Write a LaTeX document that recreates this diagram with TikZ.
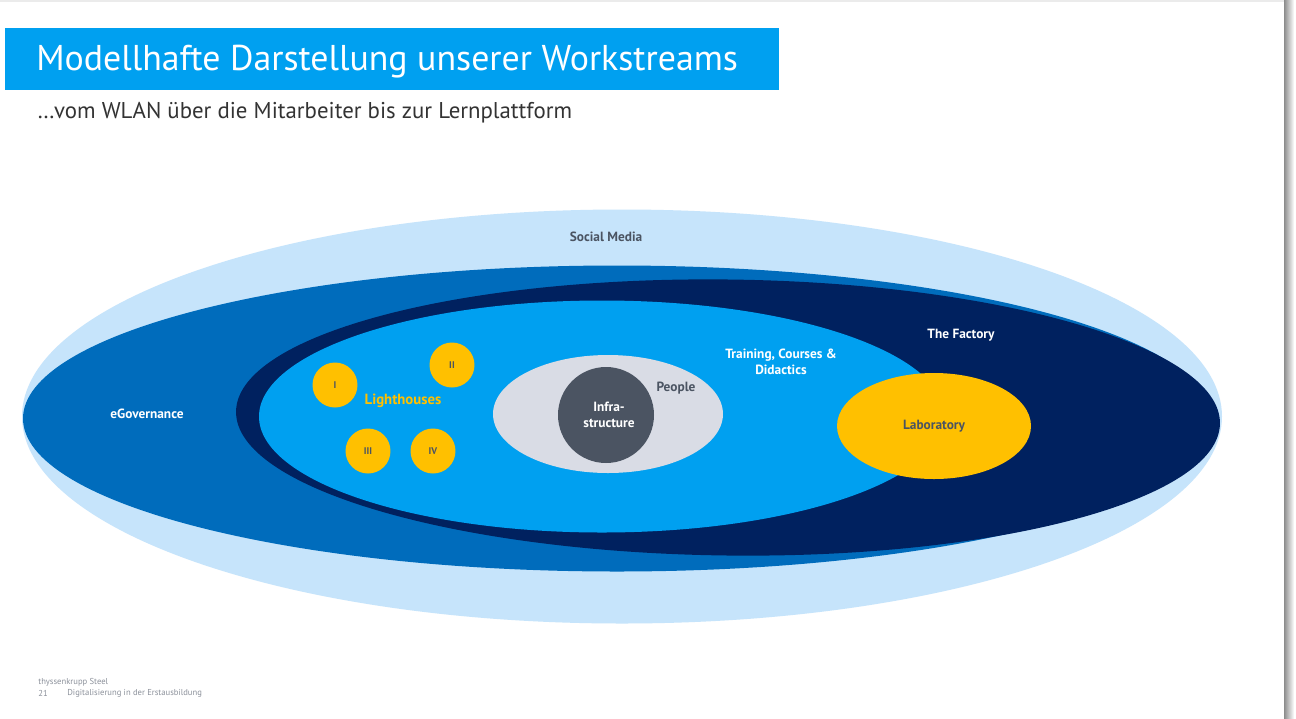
\documentclass[tikz,border=0pt]{standalone}
\usepackage{fontspec}
\setmainfont{PT Sans}
\usepackage{tikz}
\usetikzlibrary{positioning}
\definecolor{tkSky}{HTML}{C6E4FB}
\definecolor{tkMid}{HTML}{006CBC}
\definecolor{tkNavy}{HTML}{00215F}
\definecolor{tkBright}{HTML}{00A0F0}
\definecolor{tkYellow}{HTML}{FFC000}
\definecolor{tkPale}{HTML}{D9DCE5}
\definecolor{tkSlate}{HTML}{4B5462}
\definecolor{tkFoot}{HTML}{8C919B}
\tikzset{
  ringlabel/.style={font=\fontsize{7.6}{9}\selectfont\bfseries, align=center, inner sep=0pt},
  whitelabel/.style={ringlabel, text=white},
  darklabel/.style={ringlabel, text=tkSlate},
  beacon/.style={circle, fill=tkYellow, minimum size=0.9cm, inner sep=0pt,
                 text=tkSlate, font=\fontsize{5.5}{6}\selectfont\bfseries},
  footline/.style={font=\fontsize{4.9}{6}\selectfont, text=tkFoot, anchor=west, inner sep=0pt},
}
\begin{document}
\begin{tikzpicture}[x=0.02cm, y=-0.02cm]
  \useasboundingbox (0,0) rectangle (1296,718);
  \fill[white] (0,0) rectangle (1296,718);
  % page edge
  \shade[left color=black!45, right color=white] (1284,0) rectangle (1294,718);
  \fill[black!8] (0,0) rectangle (1284,2);

  % heading
  \fill[tkBright] (5,28) rectangle (779,90);
  \node[anchor=west, text=white, inner sep=0pt, font=\fontsize{20.4}{24}\selectfont] (title) at (36,62)
    {Modellhafte Darstellung unserer Workstreams};
  \node[anchor=west, text=black!80, inner sep=0pt, font=\fontsize{13}{15}\selectfont] (subtitle) at (37,113)
    {\dots vom WLAN über die Mitarbeiter bis zur Lernplattform};

  % nested workstreams
  \fill[tkSky] (622,416.5) ellipse [x radius=600, y radius=207];
  \fill[tkMid] (617,418.5) ellipse [x radius=594, y radius=153];
  \begin{scope}[rotate around={-0.7:(728,417.5)}]
    \fill[tkNavy] (728,417.5) ellipse [x radius=492, y radius=138];
  \end{scope}
  \fill[tkBright] (602,416.5) ellipse [x radius=343, y radius=116];
  \fill[tkPale] (608,414) ellipse [x radius=115, y radius=59];
  \fill[tkSlate] (606,415) circle [radius=48];
  \fill[tkYellow] (934,426) ellipse [x radius=97, y radius=53];

  \node[darklabel] (social) at (606,237) {Social Media};
  \node[whitelabel] (egov) at (147,414) {eGovernance};
  \node[whitelabel] (factory) at (961,335) {The Factory};
  \node[whitelabel] (training) at (781,362) {Training, Courses \&\\Didactics};
  \node[darklabel] (people) at (676,388) {People};
  \node[whitelabel] (infra) at (609,415) {Infra-\\structure};
  \node[darklabel] (lab) at (934,426) {Laboratory};

  % lighthouse projects
  \node[beacon] (lhI) at (335,385) {I};
  \node[beacon] (lhII) at (452,365) {II};
  \node[beacon] (lhIII) at (368,451) {III};
  \node[beacon] (lhIV) at (433,451) {IV};
  \node[ringlabel, text=tkYellow, font=\fontsize{8.4}{10}\selectfont\bfseries] (lighthouses) at (403,401) {Lighthouses};

  % footer
  \node[footline] (company) at (38,682) {thyssenkrupp Steel};
  \node[footline] (pageno) at (38,693) {21};
  \node[footline] (doctitle) at (67,693) {Digitalisierung in der Erstausbildung};
\end{tikzpicture}
\end{document}
